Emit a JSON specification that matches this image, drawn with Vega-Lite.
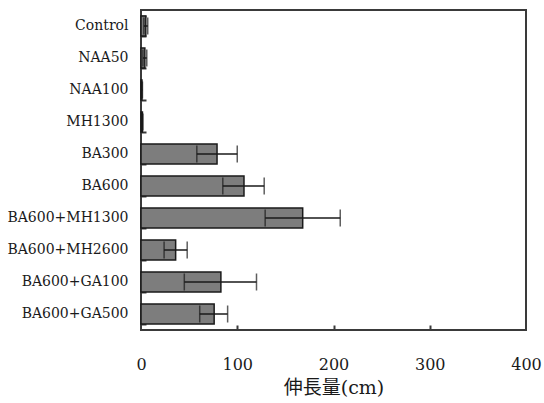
{
  "$schema": "https://vega.github.io/schema/vega-lite/v6.json",
  "width": 385,
  "height": 320,
  "autosize": {"type": "none"},
  "padding": {"left": 141, "top": 10, "right": 18, "bottom": 73},
  "background": "white",
  "config": {
    "view": {"stroke": "#3a3a3a", "strokeWidth": 2},
    "font": "DejaVu Serif",
    "axis": {"domain": false, "grid": false, "labelColor": "#1a1a1a", "titleColor": "#1a1a1a", "tickColor": "#3a3a3a", "tickWidth": 2}
  },
  "data": {
    "values": [
      {"treatment": "Control", "mean": 5, "lo": 3, "hi": 7},
      {"treatment": "NAA50", "mean": 4, "lo": 2, "hi": 6},
      {"treatment": "NAA100", "mean": 1, "lo": 0.5, "hi": 1.5},
      {"treatment": "MH1300", "mean": 1.5, "lo": 1, "hi": 2},
      {"treatment": "BA300", "mean": 79, "lo": 58, "hi": 100},
      {"treatment": "BA600", "mean": 107, "lo": 85, "hi": 128},
      {"treatment": "BA600+MH1300", "mean": 168, "lo": 129, "hi": 207},
      {"treatment": "BA600+MH2600", "mean": 36, "lo": 24, "hi": 48},
      {"treatment": "BA600+GA100", "mean": 83, "lo": 45, "hi": 120},
      {"treatment": "BA600+GA500", "mean": 76, "lo": 61, "hi": 90}
    ]
  },
  "resolve": {"axis": {"x": "independent", "y": "independent"}},
  "layer": [
    {
      "mark": {"type": "bar", "fill": "#7d7d7d", "stroke": "#1a1a1a", "strokeWidth": 1.5, "size": 20},
      "encoding": {
        "y": {
          "field": "treatment", "type": "nominal", "sort": null,
          "scale": {"paddingInner": 0.38, "paddingOuter": 0.19},
          "axis": {"orient": "left", "title": null, "ticks": false, "labelPadding": 13, "labelFontSize": 14, "labelFont": "DejaVu Serif"}
        },
        "x": {
          "field": "mean", "type": "quantitative",
          "scale": {"domain": [0, 400], "nice": false},
          "axis": {"orient": "bottom", "values": [0, 100, 200, 300, 400], "ticks": false, "labelFlush": false, "labelPadding": 26, "labelFontSize": 16, "labelFont": "DejaVu Serif", "title": "伸長量(cm)", "titleFont": "DejaVu Serif, Noto Sans CJK JP", "titleFontSize": 19, "titleFontWeight": "normal", "titlePadding": 6}
        }
      }
    },
    {
      "mark": {"type": "rule", "stroke": "#1a1a1a", "strokeWidth": 1.5},
      "encoding": {
        "y": {
          "field": "treatment", "type": "nominal", "sort": null,
          "axis": {"orient": "left", "offset": -5, "title": null, "labels": false, "tickBand": "extent", "tickSize": 5, "tickWidth": 2}
        },
        "x": {
          "field": "lo", "type": "quantitative",
          "axis": {"orient": "bottom", "offset": -5, "values": [100, 200, 300], "labels": false, "title": null, "tickSize": 5, "tickWidth": 2}
        },
        "x2": {"field": "hi"}
      }
    },
    {
      "mark": {"type": "tick", "orient": "vertical", "color": "#1a1a1a", "thickness": 1.5, "size": 17},
      "encoding": {
        "y": {"field": "treatment", "type": "nominal", "sort": null, "axis": null},
        "x": {"field": "lo", "type": "quantitative", "axis": null}
      }
    },
    {
      "mark": {"type": "tick", "orient": "vertical", "color": "#1a1a1a", "thickness": 1.5, "size": 17},
      "encoding": {
        "y": {"field": "treatment", "type": "nominal", "sort": null, "axis": null},
        "x": {"field": "hi", "type": "quantitative", "axis": null}
      }
    }
  ]
}
